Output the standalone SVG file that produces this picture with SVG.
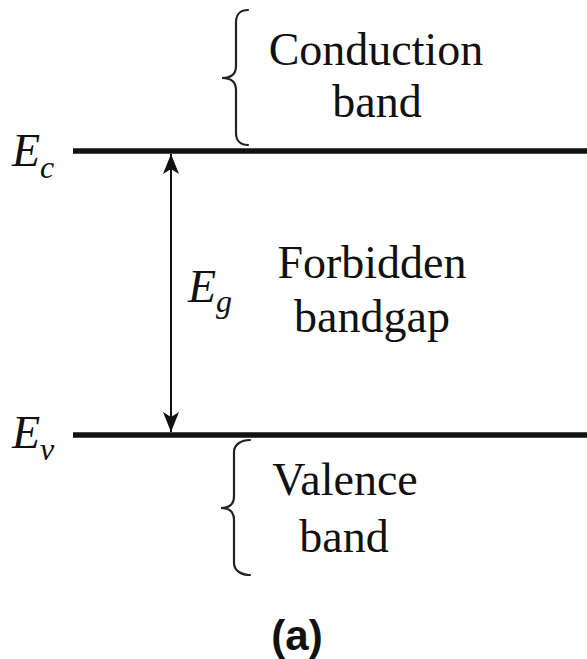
<svg xmlns="http://www.w3.org/2000/svg" width="587" height="659" viewBox="0 0 587 659">
  <style>
    .lbl { font-family: 'Liberation Serif', 'Times New Roman', serif; font-size: 46px; fill: #111; text-anchor: middle; }
    .sym { font-family: 'Liberation Serif', 'Times New Roman', serif; font-style: italic; font-size: 46px; fill: #111; }
    .sub { font-size: 32px; }
    .cap { font-family: 'Liberation Sans', Arial, sans-serif; font-weight: bold; font-size: 42px; fill: #111; text-anchor: middle; }
    .level { stroke: #111; stroke-width: 5.5; fill: none; }
    .brace { stroke: #222; stroke-width: 2.2; fill: none; stroke-linecap: round; }
    .dim { stroke: #111; stroke-width: 2; fill: none; }
  </style>
  <defs>
    <marker id="head" viewBox="0 0 20 16" refX="20" refY="8" markerWidth="20" markerHeight="16" markerUnits="userSpaceOnUse" orient="auto-start-reverse">
      <path d="M0,0 L20,8 L0,16 L5,8 Z" fill="#111"/>
    </marker>
  </defs>
  <rect width="587" height="659" fill="#fff"/>

  <!-- conduction band edge -->
  <g id="ec">
    <line class="level" x1="73" y1="151" x2="587" y2="151"/>
    <text class="sym" x="12" y="166">E<tspan class="sub" dy="12">c</tspan></text>
  </g>

  <!-- valence band edge -->
  <g id="ev">
    <line class="level" x1="73" y1="435" x2="587" y2="435"/>
    <text class="sym" x="12" y="448">E<tspan class="sub" dy="12">v</tspan></text>
  </g>

  <!-- conduction band label -->
  <g id="conduction">
    <path class="brace" d="M248,10 C241,10 236,14 236,22 L236,66 C236,74 231,78 222,78 C231,78 236,82 236,90 L236,133 C236,141 241,145 248,145"/>
    <text class="lbl" x="376" y="65">Conduction</text>
    <text class="lbl" x="377" y="117">band</text>
  </g>

  <!-- forbidden gap label -->
  <g id="gap">
    <text class="lbl" x="372" y="278">Forbidden</text>
    <text class="lbl" x="372" y="332">bandgap</text>
  </g>

  <!-- valence band label -->
  <g id="valence">
    <path class="brace" d="M250,440 C242,440 234,444 234,452 L234,496 C234,504 229,508 221,508 C229,508 234,512 234,520 L234,563 C234,571 242,575 250,575"/>
    <text class="lbl" x="345" y="495">Valence</text>
    <text class="lbl" x="344" y="552">band</text>
  </g>

  <!-- gap energy dimension -->
  <g id="connectors">
    <line class="dim" x1="171" y1="154" x2="171" y2="432" marker-start="url(#head)" marker-end="url(#head)"/>
  </g>
  <g id="eg">
    <text class="sym" x="188" y="302">E<tspan class="sub" dy="10">g</tspan></text>
  </g>

  <g id="caption">
    <text class="cap" x="297" y="650">(a)</text>
  </g>
</svg>
